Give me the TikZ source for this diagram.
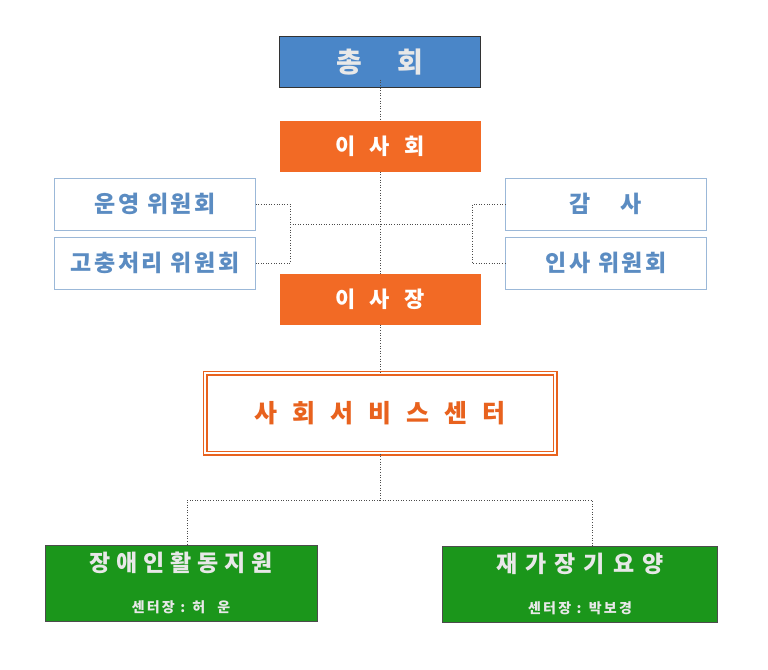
\documentclass[tikz,border=0pt]{standalone}
\usepackage{fontspec}
\setmainfont{Noto Sans CJK KR}[BoldFont={* Black}]
\usetikzlibrary{positioning}

\definecolor{boardblue}{HTML}{4A86C8}
\definecolor{boardorange}{HTML}{F26A25}
\definecolor{centerorange}{HTML}{E8621E}
\definecolor{boardgreen}{HTML}{1B961B}
\definecolor{linkblue}{HTML}{9BB8D8}
\definecolor{textblue}{HTML}{5B8CC2}
\definecolor{palegray}{HTML}{E8E8E8}

\newcommand{\tracked}[1]{\addfontfeature{LetterSpace=#1}}

\tikzstyle{block} = [rectangle, text centered, inner sep=0pt, font=\bfseries]
\tikzstyle{topbox} = [block, fill=boardblue, draw=black!80, minimum width=201, minimum height=51, text=palegray]
\tikzstyle{orangebox} = [block, fill=boardorange, minimum width=201, minimum height=51, text=white, font=\bfseries\fontsize{22}{24}\selectfont]
\tikzstyle{sidebox} = [block, fill=white, draw=linkblue, minimum width=201, minimum height=52, text=textblue, font=\bfseries\fontsize{23}{25}\selectfont]
\tikzstyle{greenbox} = [block, fill=boardgreen, draw=black!70, minimum height=76, text=palegray, align=center]
\tikzstyle{line} = [draw, black!70, dotted, line width=0.6pt]

\begin{document}
\begin{tikzpicture}[x=1pt, y=-1pt]
    \useasboundingbox (0,0) rectangle (768,669);

    \node[topbox, font=\bfseries\fontsize{28}{30}\selectfont] (general) at (380,62) {총\hspace{36pt}회};
    \node[orangebox] (board) at (380,146) {이\hspace{14pt}사\hspace{14pt}회};

    \node[sidebox] (operate) at (155,204) {\tracked{11}운영 위원회\hspace{-2.5pt}};
    \node[sidebox] (grievance) at (155,263) {\tracked{11}고충처리 위원회\hspace{-2.5pt}};
    \node[sidebox] (audit) at (606,204) {감\hspace{30pt}사};
    \node[sidebox] (personnel) at (606,263) {\tracked{11}인사 위원회\hspace{-2.5pt}};

    \node[orangebox] (chair) at (380,299) {이\hspace{14pt}사\hspace{14pt}장};

    \node[block, draw=centerorange, double=white, line width=1.4pt, double distance=2.2pt, fill=white,
          minimum width=350, minimum height=80, text=centerorange,
          font=\bfseries\fontsize{25}{27}\selectfont] (center) at (380,413)
        {사\hspace{15pt}회\hspace{15pt}서\hspace{15pt}비\hspace{15pt}스\hspace{15pt}센\hspace{15pt}터};

    \node[greenbox, minimum width=272] (activity) at (181,583)
        {{\fontsize{23}{25}\selectfont\tracked{26}장애인활동지원\hspace{-6pt}}\\[26pt]%
         {\fontsize{14}{16}\selectfont\tracked{16}센터장 : 허\hspace{12pt}운\hspace{-2.2pt}}};
    \node[greenbox, minimum width=275] (longterm) at (580,584)
        {{\fontsize{23}{25}\selectfont 재\hspace{8pt}가\hspace{8pt}장\hspace{8pt}기\hspace{8pt}요\hspace{8pt}양}\\[26pt]%
         {\fontsize{14}{16}\selectfont\tracked{16}센터장 : 박보경\hspace{-2.2pt}}};

    % junctions
    \coordinate (midleft) at (290,224);
    \coordinate (midright) at (472,224);
    \coordinate (split) at (380,500);

    % lines
    \draw[line] ([yshift=8pt]general.south) -- (board.north);
    \draw[line] (board.south) -- (chair.north);
    \draw[line] (operate.east) -| (midleft) |- (grievance.east);
    \draw[line] (audit.west) -| (midright) |- (personnel.west);
    \draw[line] (midleft) -- (midright);
    \draw[line] (chair.south) -- (center.north);
    \draw[line] (center.south) -- (split);
    \draw[line] (split) -| ([xshift=6]activity.north);
    \draw[line] (split) -| ([xshift=12]longterm.north);
\end{tikzpicture}
\end{document}
